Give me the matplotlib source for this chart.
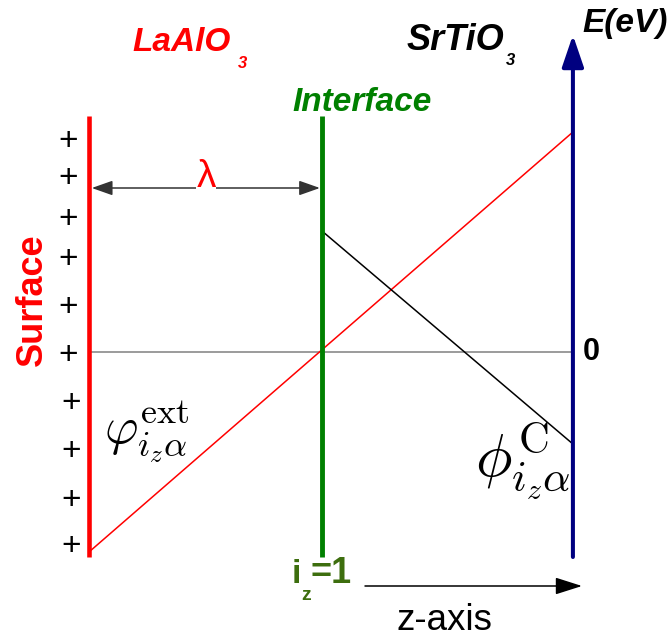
import matplotlib
matplotlib.use("Agg")
import matplotlib.pyplot as plt
import matplotlib.transforms as mtransforms

plt.rcParams['font.family'] = ['Liberation Sans', 'DejaVu Sans']
plt.rcParams['mathtext.fontset'] = 'cm'

# positions along z (surface = 0, interface = 1) and energies (eV, arbitrary units)
z_surface = 0.0
z_interface = 1.0
z_edge = 2.077
E_bottom = -1.025
E_top = 1.18
E_arrow_tip = 1.585

# external potential (red) and compensating potential (black)
ext_z = [z_surface, z_edge]
ext_E = [-1.0, 1.1]
comp_z = [z_interface, z_edge]
comp_E = [0.605, -0.46]

# surface charges
plus_E = [1.07, 0.885, 0.68, 0.48, 0.24, 0.0, -0.24, -0.48, -0.725, -0.955]
plus_z = [-0.09] * 6 + [-0.077] * 4

fig = plt.figure(figsize=(6.71, 6.40), dpi=100)
ax = fig.add_axes([0, 0, 1, 1])
ax.set_xlim(-0.382, 2.498)
ax.set_ylim(-1.44, 1.76)
ax.axis('off')

# pixel transform for labels (origin top-left)
pix = mtransforms.Affine2D().scale(1 / 671, -1 / 640).translate(0, 1) + fig.transFigure

# zero level
ax.plot([z_surface, z_edge], [0, 0], color='#808080', lw=1.1, zorder=1)

# potentials
ax.plot(ext_z, ext_E, color='red', lw=1.1, zorder=2)
ax.plot(comp_z, comp_E, color='black', lw=1.1, zorder=2)

# surface and interface
ax.plot([z_surface, z_surface], [E_bottom, E_top], color='red', lw=3.3, solid_capstyle='butt', zorder=3)
ax.plot([z_interface, z_interface], [E_bottom, E_top], color='#008000', lw=3.5, solid_capstyle='butt', zorder=3)

# energy axis
ax.annotate('', xy=(z_edge, E_arrow_tip), xytext=(z_edge, E_bottom),
            arrowprops=dict(arrowstyle='-|>,head_length=0.97,head_width=0.33',
                            mutation_scale=20, color='#000080', lw=2.9,
                            shrinkA=0, shrinkB=0), zorder=4)

# lambda: distance surface -> interface
ax.annotate('', xy=(z_surface, 0.82), xytext=(z_interface, 0.82),
            arrowprops=dict(arrowstyle='<|-|>,head_length=0.85,head_width=0.3',
                            mutation_scale=15, color='#333333', lw=1.1,
                            shrinkA=1.5, shrinkB=2), zorder=2)
ax.text(206, 187, 'λ', transform=pix, color='red', fontsize=28, ha='center', va='baseline',
        bbox=dict(facecolor='white', edgecolor='none', pad=0), zorder=3)

# z-axis arrow
ax.annotate('', xy=(582, 586), xytext=(365, 586), xycoords=pix, textcoords=pix,
            arrowprops=dict(arrowstyle='-|>,head_length=1.1,head_width=0.35',
                            mutation_scale=15, color='black', lw=1.1,
                            shrinkA=0, shrinkB=0))

for z, E in zip(plus_z, plus_E):
    ax.text(z, E, '+', fontsize=24, ha='center', va='center_baseline', color='black')

# labels
ax.text(132, 51, 'LaAlO', transform=pix, color='red', fontsize=24, fontweight='bold',
        fontstyle='italic', va='baseline')
ax.text(238, 68, '3', transform=pix, color='red', fontsize=12, fontweight='bold',
        fontstyle='italic', va='baseline')
ax.text(407, 50, 'SrTiO', transform=pix, color='black', fontsize=26, fontweight='bold',
        fontstyle='italic', va='baseline')
ax.text(506, 65, '3', transform=pix, color='black', fontsize=12, fontweight='bold',
        fontstyle='italic', va='baseline')
ax.text(582, 32, 'E(eV)', transform=pix, color='black', fontsize=24, fontweight='bold',
        fontstyle='italic', va='baseline')
ax.text(292, 111, 'Interface', transform=pix, color='#008000', fontsize=24, fontweight='bold',
        fontstyle='italic', va='baseline')
ax.text(42, 300, 'Surface', transform=pix, color='red', fontsize=26, fontweight='bold',
        rotation=90, rotation_mode='anchor', ha='center', va='baseline')
ax.text(583, 360, '0', transform=pix, color='black', fontsize=22, fontweight='bold',
        va='baseline')

ax.text(292, 583, 'i', transform=pix, color='#3d6e0e', fontsize=24, fontweight='bold', va='baseline')
ax.text(301, 600, 'z', transform=pix, color='#3d6e0e', fontsize=14, fontweight='bold', va='baseline')
ax.text(311, 583, '=1', transform=pix, color='#3d6e0e', fontsize=26, fontweight='bold', va='baseline')
ax.text(396, 630, 'z-axis', transform=pix, color='black', fontsize=26.5, va='baseline')

ax.text(104, 443, r'$\varphi^{\mathrm{ext}}_{i_z\alpha}$', transform=pix, fontsize=37,
        va='baseline', ha='left')
ax.text(571, 476, r'$\phi^{\mathrm{C}}_{i_z\alpha}$', transform=pix, fontsize=44,
        va='baseline', ha='right')

fig.savefig('out.png', dpi=100)
